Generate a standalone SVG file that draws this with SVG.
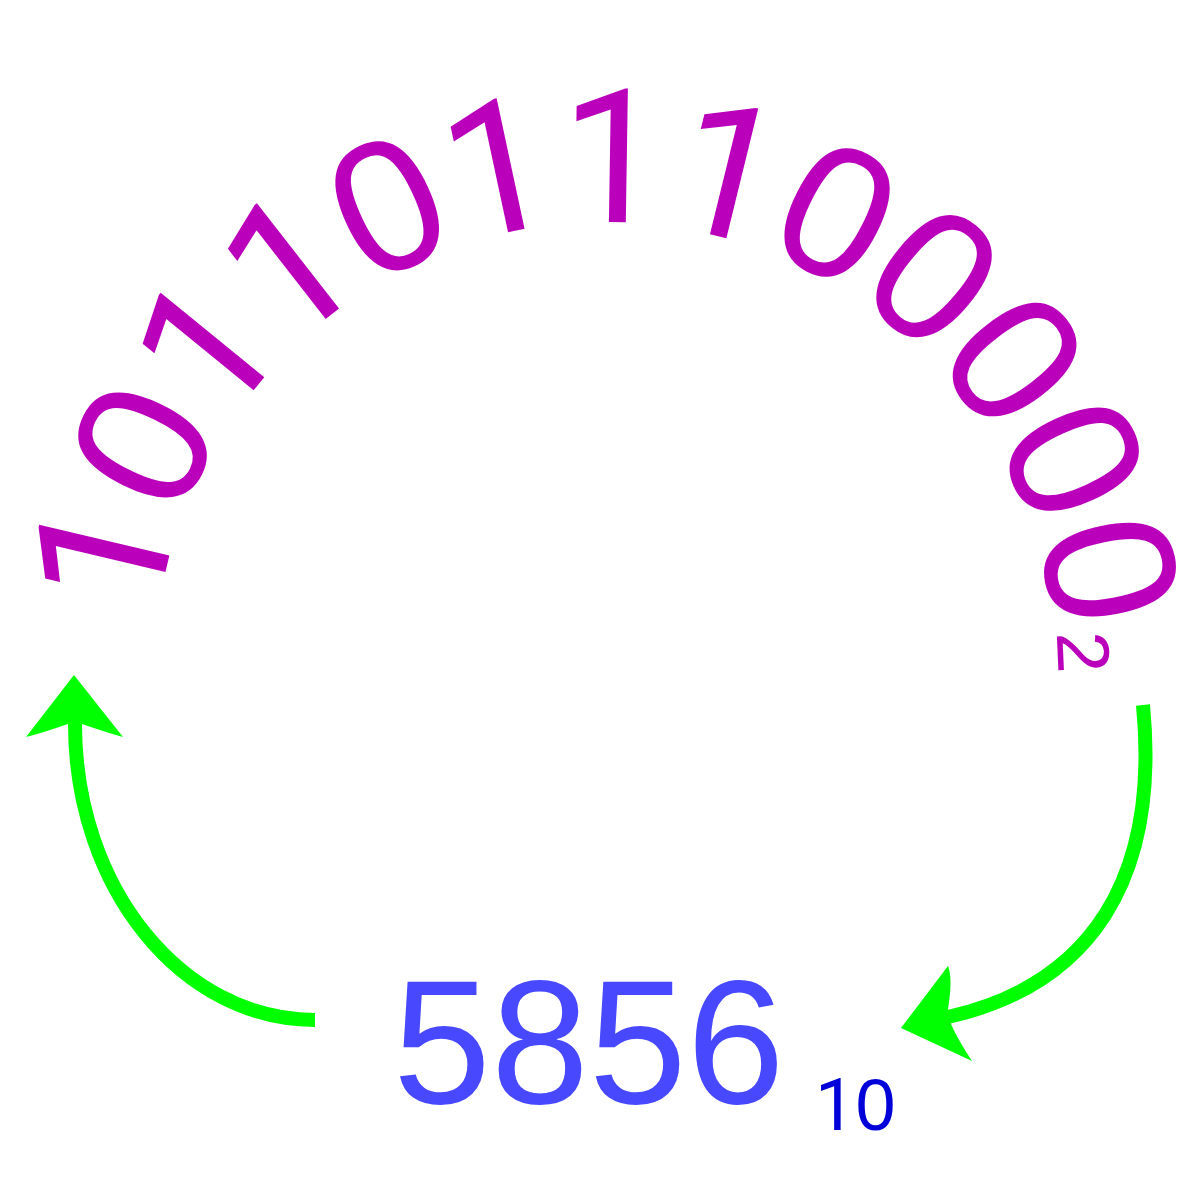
<svg xmlns="http://www.w3.org/2000/svg" width="1200" height="1200" viewBox="0 0 1200 1200">
<style>
.bin text{fill:#bb00bb;text-anchor:middle;font-family:"Liberation Sans",Arial,sans-serif;font-size:187px}
.bin text.one{font-family:Roboto,"Liberation Sans",Arial,sans-serif}
.bin text.sub{font-size:74px}
.dec{font-family:"Liberation Sans",Arial,sans-serif;fill:#4848ff;font-size:176px}
.sub10{font-family:"Liberation Sans",Arial,sans-serif;fill:#0000d8;font-size:72px}
.r{font-family:Roboto,"Liberation Sans",Arial,sans-serif}
.arrow{fill:none;stroke:#00ff00;stroke-width:14}
.head{fill:#00ff00}
</style>
<rect width="1200" height="1200" fill="#ffffff"/>
<g id="binary" class="bin">
<text class="one" transform="translate(166.1,569.2) rotate(283.3)">1</text>
<text transform="translate(200.4,473.7) rotate(296.23)">0</text>
<text class="one" transform="translate(255.4,388.1) rotate(309.16)">1</text>
<text class="one" transform="translate(327.9,317.2) rotate(322.09)">1</text>
<text transform="translate(414.6,264.2) rotate(335.02)">0</text>
<text class="one" transform="translate(510.8,231.9) rotate(347.95)">1</text>
<text class="one" transform="translate(611.9,222.0) rotate(0.88)">1</text>
<text class="one" transform="translate(712.7,235.0) rotate(13.81)">1</text>
<text transform="translate(807.9,270.2) rotate(26.74)">0</text>
<text transform="translate(892.9,325.9) rotate(39.67)">0</text>
<text transform="translate(963.3,399.1) rotate(52.6)">0</text>
<text transform="translate(1015.5,486.2) rotate(65.53)">0</text>
<text transform="translate(1046.9,582.8) rotate(78.46)">0</text>
<text class="sub" transform="translate(1057.6,653.3) rotate(87.5)">2</text>
</g>
<g id="decimal">
<text class="dec" x="393" y="1103">5856</text>
<text class="sub10" x="815" y="1130"><tspan class="r">1</tspan>0</text>
</g>
<g id="connectors">
<path class="arrow" d="M315,1020 C182,1020 75,888 75,724"/>
<path class="head" d="M74,675 L123,737 Q108,733 82,724 L68,724 Q42,733 26,737 Z"/>
<path class="arrow" d="M1143,705 C1160,880 1090,985 948,1017"/>
<path class="head" d="M901,1028 L948,966 Q953,978 948,1009 L951,1024 Q958,1040 972,1061 Z"/>
</g>
</svg>
